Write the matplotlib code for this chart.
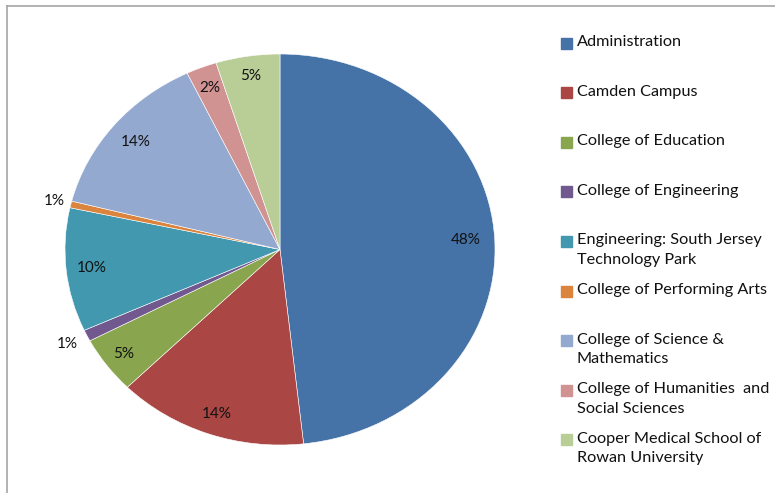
import math
import matplotlib
matplotlib.use("agg")
import matplotlib.pyplot as plt
from matplotlib.lines import Line2D
from matplotlib.patches import Rectangle

plt.rcParams["font.family"] = ["Lato", "DejaVu Sans"]

categories = [
    "Administration",
    "Camden Campus",
    "College of Education",
    "College of Engineering",
    "Engineering: South Jersey\nTechnology Park",
    "College of Performing Arts",
    "College of Science &\nMathematics",
    "College of Humanities  and\nSocial Sciences",
    "Cooper Medical School of\nRowan University",
]
shares = [48.2, 14.3, 4.7, 0.95, 10.2, 0.55, 13.9, 2.3, 4.8]
colors = ["#4572A7", "#AA4643", "#89A54E", "#71588F", "#4198AF",
          "#DB843D", "#93A9CF", "#D19392", "#B9CD96"]
label_dist = [0.865, 0.89, 0.90, 1.10, 0.88, 1.08, 0.87, 0.89, 0.90]

W, H = 775, 493
fig = plt.figure(figsize=(W / 100, H / 100), dpi=100)

# pie area in pixels: x 65..495, y 54..445 (slightly elliptical)
ax = fig.add_axes([65 / W, (H - 445) / H, 430 / W, 391 / H])
wedges, texts, autotexts = ax.pie(
    shares, colors=colors, startangle=90, counterclock=False,
    autopct="%.0f%%", pctdistance=0.85,
    wedgeprops=dict(edgecolor="white", linewidth=0.4),
    textprops=dict(fontsize=11, color="#111111"),
)
for w, t, d in zip(wedges, autotexts, label_dist):
    ang = math.radians((w.theta1 + w.theta2) / 2)
    t.set_position((d * math.cos(ang), d * math.sin(ang)))
ax.set_aspect("auto")
ax.set_xlim(-1, 1)
ax.set_ylim(-1, 1)
ax.axis("off")

# legend drawn by hand so the swatch sits next to the first line
for i, (name, c) in enumerate(zip(categories, colors)):
    yc = 43 + 49.6 * i
    fig.add_artist(Rectangle((561 / W, 1 - (yc + 5.5) / H), 11 / W, 11 / H,
                             color=c, transform=fig.transFigure))
    fig.text(577 / W, 1 - (yc - 8) / H, name, fontsize=11.7, va="top",
             ha="left", color="#111111", linespacing=1.5)

# frame lines (top and left)
fig.add_artist(Line2D([7 / W, 1], [1 - 6 / H, 1 - 6 / H], color="#a6a6a6",
                      lw=1.2, transform=fig.transFigure))
fig.add_artist(Line2D([7 / W, 7 / W], [0, 1 - 6 / H], color="#a6a6a6",
                      lw=1.2, transform=fig.transFigure))

fig.savefig("out.png", dpi=100)
